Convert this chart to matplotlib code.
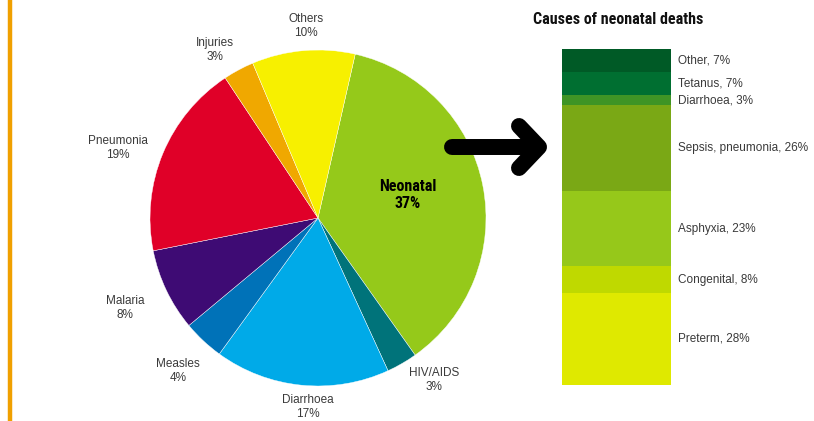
import matplotlib
matplotlib.use("Agg")
import matplotlib.pyplot as plt
from matplotlib import font_manager
import numpy as np

# pie: causes of child deaths (clockwise from the top right)
pie_labels = ["Neonatal", "HIV/AIDS", "Diarrhoea", "Measles", "Malaria",
              "Pneumonia", "Injuries", "Others"]
pie_values = [37, 3, 17, 4, 8, 19, 3, 10]
pie_colors = ["#95c91a", "#00737a", "#00aae8", "#0072b8", "#3e0b74",
              "#e00028", "#f0a800", "#f7f000"]

# stacked bar: causes of neonatal deaths (bottom to top)
bar_labels = ["Preterm", "Congenital", "Asphyxia", "Sepsis, pneumonia",
              "Diarrhoea", "Tetanus", "Other"]
bar_values = [28, 8, 23, 26, 3, 7, 7]
bar_colors = ["#dfe900", "#bfd900", "#96c81a", "#7aa815", "#3f9425",
              "#006f31", "#005a26"]

W, H = 814, 421
txt = "#3a3a3a"
plt.rcParams["font.family"] = ["Liberation Sans", "DejaVu Sans"]

# pick some condensed bold face for the headings if one is installed
fonts = font_manager.fontManager.ttflist
names = {f.name for f in fonts}
cond = dict(family=["DejaVu Sans"], fontweight="bold")
for cand in ["Liberation Sans Narrow", "Roboto Condensed", "Open Sans Condensed",
             "Noto Sans Condensed", "DejaVu Sans Condensed"]:
    if cand in names:
        cond = dict(family=[cand, "DejaVu Sans"], fontweight="bold")
        break
else:
    for fam in ["Roboto", "Noto Sans", "Open Sans", "DejaVu Sans"]:
        if any(f.name == fam and f.stretch in ("condensed", "semi-condensed",
                                               "extra-condensed")
               for f in fonts):
            cond = dict(family=[fam, "DejaVu Sans"], fontweight="bold",
                        fontstretch="condensed")
            break

fig = plt.figure(figsize=(W / 100, H / 100), dpi=100)

# orange rule on the left
bg = fig.add_axes([0, 0, 1, 1])
bg.set_xlim(0, W)
bg.set_ylim(H, 0)
bg.axis("off")
bg.plot([9.5, 9.5], [0, H], color="#f0a000", lw=3.2, solid_capstyle="butt")

# pie
cx, cy, r = 318, 218, 168
pax = fig.add_axes([(cx - r) / W, (H - cy - r) / H, 2 * r / W, 2 * r / H])
pax.pie(pie_values, colors=pie_colors, startangle=77.2, counterclock=False,
        radius=1, wedgeprops=dict(linewidth=0.3, edgecolor="white"))
pax.set_xlim(-1, 1)
pax.set_ylim(-1, 1)
pax.axis("off")

label_pos = {
    "Others": (306, 26), "Injuries": (215, 50), "Pneumonia": (118, 148),
    "Malaria": (125, 308), "Measles": (178, 371), "Diarrhoea": (308, 407),
    "HIV/AIDS": (434, 380), "Neonatal": (408, 195),
}
for lab, val in zip(pie_labels, pie_values):
    px, py = label_pos[lab]
    x, y = (px - cx) / r, (cy - py) / r
    if lab == "Neonatal":
        pax.text(x, y, f"{lab}\n{val}%", ha="center", va="center",
                 fontsize=11.5, color="black", clip_on=False,
                 linespacing=1.15, **cond)
    else:
        pax.text(x, y, f"{lab}\n{val}%", ha="center", va="center",
                 fontsize=8.5, color=txt, clip_on=False)

# stacked bar
bl, br, bt, bb = 562, 671, 49, 385
bax = fig.add_axes([bl / W, (H - bb) / H, (br - bl) / W, (bb - bt) / H])
bottoms = np.concatenate([[0], np.cumsum(bar_values)[:-1]])
for lab, val, b, c in zip(bar_labels, bar_values, bottoms, bar_colors):
    bax.bar(0, val, bottom=b, width=1, color=c, linewidth=0)
    bax.text(0.56, b + val / 2, f"{lab}, {val}%", ha="left", va="center",
             fontsize=8.5, color=txt, clip_on=False)
bax.set_xlim(-0.5, 0.5)
bax.set_ylim(0, sum(bar_values))
bax.axis("off")

# arrow on top of everything
fg = fig.add_axes([0, 0, 1, 1])
fg.set_xlim(0, W)
fg.set_ylim(H, 0)
fg.axis("off")
fg.plot([452, 536], [147, 147], color="black", lw=11.5, solid_capstyle="round")
fg.plot([519, 539, 519], [126, 147, 168], color="black", lw=11.5,
        solid_capstyle="round", solid_joinstyle="round")

fig.text(533 / W, 1 - 19 / H, "Causes of neonatal deaths", ha="left",
         va="center", fontsize=11.5, color="#111111", **cond)

fig.savefig("out.png", dpi=100)
